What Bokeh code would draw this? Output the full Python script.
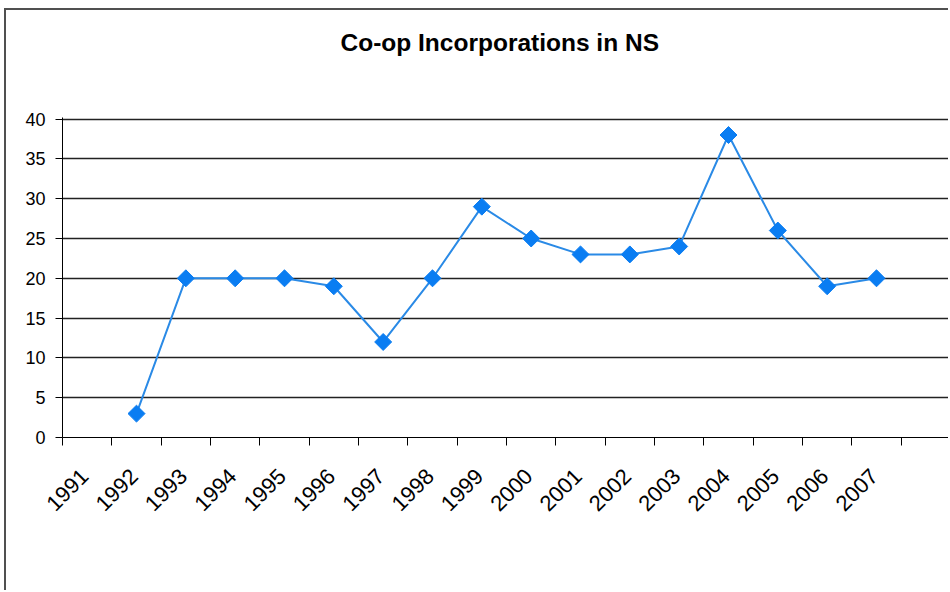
from bokeh.plotting import figure
from bokeh.models import FixedTicker, ColumnDataSource, Range1d, Title
from bokeh.embed import file_html
from bokeh.resources import INLINE

# ---- data ----
title_text = "Co-op Incorporations in NS"
years = ["1991", "1992", "1993", "1994", "1995", "1996", "1997", "1998", "1999",
         "2000", "2001", "2002", "2003", "2004", "2005", "2006", "2007", ""]
counts = [None, 3, 20, 20, 20, 19, 12, 20, 29, 25, 23, 23, 24, 38, 26, 19, 20, None]
y_ticks = [0, 5, 10, 15, 20, 25, 30, 35, 40]

n = len(years)
xs = [i + 0.5 for i, c in enumerate(counts) if c is not None]
ys = [c for c in counts if c is not None]
src = ColumnDataSource(dict(x=xs, y=ys))

p = figure(width=944, height=582, output_backend="svg", toolbar_location=None,
           x_range=Range1d(0, n), y_range=Range1d(0, 40.2),
           min_border_left=56, min_border_right=0, min_border_top=107,
           min_border_bottom=155)
p.styles = {"margin-left": "4px", "margin-top": "8px",
            "border-left": "2px solid #505050", "border-top": "2px solid #505050"}

# spacer between the frame and the title, then the title itself
p.add_layout(Title(text=" ", text_font_size="1px", standoff=43), "above")
p.add_layout(Title(text=title_text, text_font="Liberation Sans",
                   text_font_size="24.5px", text_font_style="bold",
                   text_color="black", align="left", offset=278, standoff=32),
             "above")

p.outline_line_color = None
p.background_fill_color = "white"
p.border_fill_color = "white"

# x axis: labels near category centres, tick marks at category boundaries
label_shift = -0.05
p.xaxis.ticker = FixedTicker(ticks=[i + 0.5 + label_shift for i in range(n)],
                             minor_ticks=list(range(n + 1)))
p.xaxis.major_label_overrides = {i + 0.5 + label_shift: years[i] for i in range(n)}
p.xaxis.major_label_orientation = 0.785398
p.xaxis.major_tick_out = 0
p.xaxis.major_tick_in = 0
p.xaxis.minor_tick_out = 8
p.xaxis.minor_tick_in = 0
p.xaxis.minor_tick_line_color = "black"
p.xaxis.axis_line_color = "black"
p.xaxis.major_label_text_font = "Liberation Sans"
p.xaxis.major_label_text_font_size = "22px"
p.xaxis.major_label_text_color = "black"
p.xaxis.major_label_standoff = 27

p.yaxis.ticker = FixedTicker(ticks=y_ticks, minor_ticks=[])
p.yaxis.major_tick_out = 7
p.yaxis.major_tick_in = 0
p.yaxis.major_tick_line_color = "black"
p.yaxis.axis_line_color = "black"
p.yaxis.major_label_text_font = "Liberation Sans"
p.yaxis.major_label_text_font_size = "18px"
p.yaxis.major_label_text_color = "black"
p.yaxis.major_label_standoff = 10

p.xgrid.grid_line_color = None
p.ygrid.grid_line_color = "#222222"
p.ygrid.grid_line_width = 1.5

p.line("x", "y", source=src, line_color="#2a8ae6", line_width=2)
p.scatter("x", "y", source=src, marker="square", angle=0.785398, size=12,
          fill_color="#0a7df2", line_color="#0a7df2")

open("out.html", "w").write(file_html(p, INLINE))
